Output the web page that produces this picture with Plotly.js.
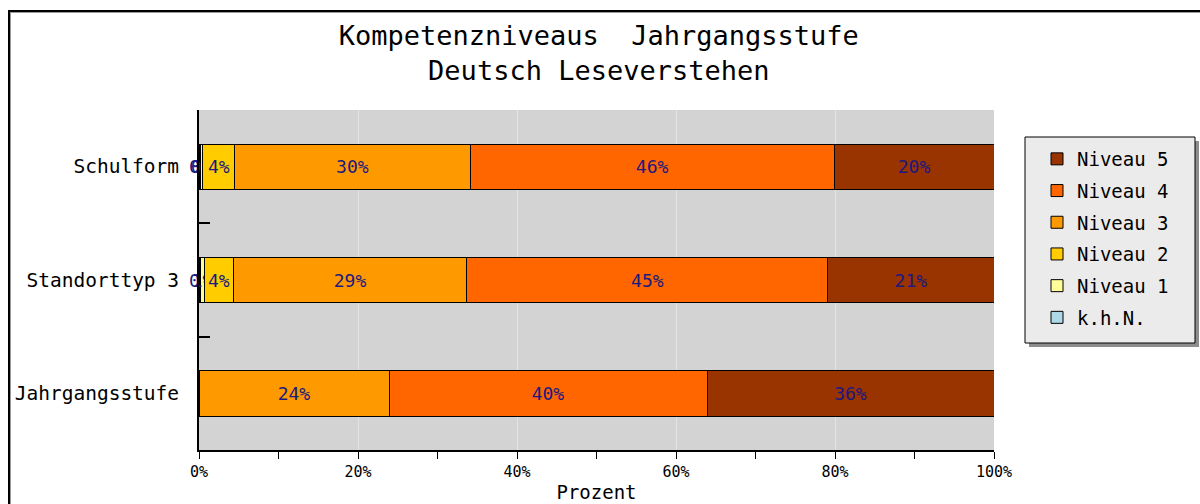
<!DOCTYPE html>
<html>
<head>
<meta charset="utf-8">
<script src="https://cdn.plot.ly/plotly-3.0.1.min.js"></script>
<style>
  html, body { margin: 0; padding: 0; background: #fff; overflow: hidden; }
  #wrap { position: relative; width: 1200px; height: 504px; }
  #chart { position: absolute; left: 0; top: 0; width: 1200px; height: 504px; }
  #frame { position: absolute; left: 8px; top: 10px; width: 1300px; height: 600px;
           border-left: 2px solid #000; border-top: 2px solid #000; pointer-events: none; }
  #frame2 { position: absolute; left: 10px; top: 12px; width: 1300px; height: 600px;
           border-left: 1px solid #9a9a9a; border-top: 1px solid #9a9a9a; pointer-events: none; }
</style>
</head>
<body>
<div id="wrap">
  <div id="chart"></div>
  <div id="frame"></div>
  <div id="frame2"></div>
</div>
<script>
// Data (categories top to bottom)
const categories = ['Schulform', 'Standorttyp 3', 'Jahrgangsstufe'];
const seriesNames = ['k.h.N.', 'Niveau 1', 'Niveau 2', 'Niveau 3', 'Niveau 4', 'Niveau 5'];
const khN     = [0.2, 0.2, 0];
const niveau1 = [0.3, 0.5, 0];
const niveau2 = [4.0, 3.6, 0];
const niveau3 = [29.6, 29.4, 23.9];
const niveau4 = [45.8, 45.4, 40.0];
const niveau5 = [20.1, 20.9, 36.1];
const xTickSuffix = '%';

const seriesValues = [khN, niveau1, niveau2, niveau3, niveau4, niveau5];
const colors = ['#add8e6', '#ffff99', '#ffcc00', '#ff9900', '#ff6600', '#993300'];

const FONT = 'DejaVu Sans Mono, Liberation Mono, monospace';

const traces = seriesValues.map((vals, i) => ({
  type: 'bar',
  orientation: 'h',
  name: seriesNames[i],
  legendgroup: 'g' + i,
  legendrank: seriesValues.length - i,
  x: vals,
  y: categories,
  marker: { color: colors[i], line: { color: '#000', width: 1 } },
  texttemplate: '%{x:.0f}%',
  textposition: 'inside',
  insidetextanchor: 'middle',
  textangle: 0,
  constraintext: 'none',
  cliponaxis: false,
  textfont: { family: FONT, size: 18, color: '#1a1a80' },
  hoverinfo: 'none'
}));

// plot area in px: x 199..994, y 110..450
const L = 199, R = 994, T = 110, B = 450;
const px2x = p => (p - L) / (R - L);
const px2y = p => (B - p) / (B - T);

const layout = {
  width: 1200, height: 504,
  margin: { l: L, r: 1200 - R, t: T, b: 504 - B },
  paper_bgcolor: 'rgba(0,0,0,0)',
  plot_bgcolor: '#d3d3d3',
  barmode: 'stack',
  bargap: 0.6,
  showlegend: true,
  font: { family: FONT, color: '#000' },
  title: {
    text: 'Kompetenzniveaus\u00A0 Jahrgangsstufe<br>Deutsch Leseverstehen',
    font: { family: FONT, size: 27, color: '#000' },
    x: 0.499, xref: 'container', xanchor: 'center',
    y: 1 - 45 / 504, yref: 'container', yanchor: 'top'
  },
  xaxis: {
    range: [0, 100],
    dtick: 20,
    ticksuffix: xTickSuffix,
    ticks: 'outside', ticklen: 7, tickwidth: 1, tickcolor: '#000',
    showline: true, linewidth: 2, linecolor: '#000',
    showgrid: true, gridcolor: '#e4e4e4', gridwidth: 1,
    zeroline: false,
    minor: { dtick: 10, ticks: 'outside', ticklen: 7, tickwidth: 1, tickcolor: '#000', showgrid: false },
    tickfont: { family: FONT, size: 15, color: '#000' },
    title: { text: 'Prozent', font: { family: FONT, size: 19, color: '#000' }, standoff: 6 },
    fixedrange: true
  },
  yaxis: {
    type: 'category',
    categoryorder: 'array',
    categoryarray: categories,
    autorange: 'reversed',
    showline: true, linewidth: 2, linecolor: '#000',
    ticks: 'inside', tickson: 'boundaries', ticklen: 11, tickwidth: 2, tickcolor: '#000',
    ticklabelstandoff: 14,
    showgrid: false, zeroline: false,
    tickfont: { family: FONT, size: 19.5, color: '#000' },
    fixedrange: true
  },
  legend: {
    traceorder: 'grouped',
    tracegroupgap: 4,
    x: px2x(1037), xanchor: 'left',
    y: px2y(140), yanchor: 'top',
    bgcolor: 'rgba(0,0,0,0)',
    borderwidth: 0,
    font: { family: FONT, size: 19, color: '#000' }
  },
  shapes: [
    { type: 'rect', xref: 'paper', yref: 'paper', layer: 'above',
      x0: px2x(1029), x1: px2x(1199), y0: px2y(141), y1: px2y(347),
      fillcolor: '#8c8c8c', line: { width: 0 } },
    { type: 'rect', xref: 'paper', yref: 'paper', layer: 'above',
      x0: px2x(1025), x1: px2x(1195), y0: px2y(137), y1: px2y(343),
      fillcolor: '#ebebeb', line: { color: '#000', width: 1 } }
  ]
};

Plotly.newPlot('chart', traces, layout, { staticPlot: true, displayModeBar: false });
</script>
</body>
</html>
